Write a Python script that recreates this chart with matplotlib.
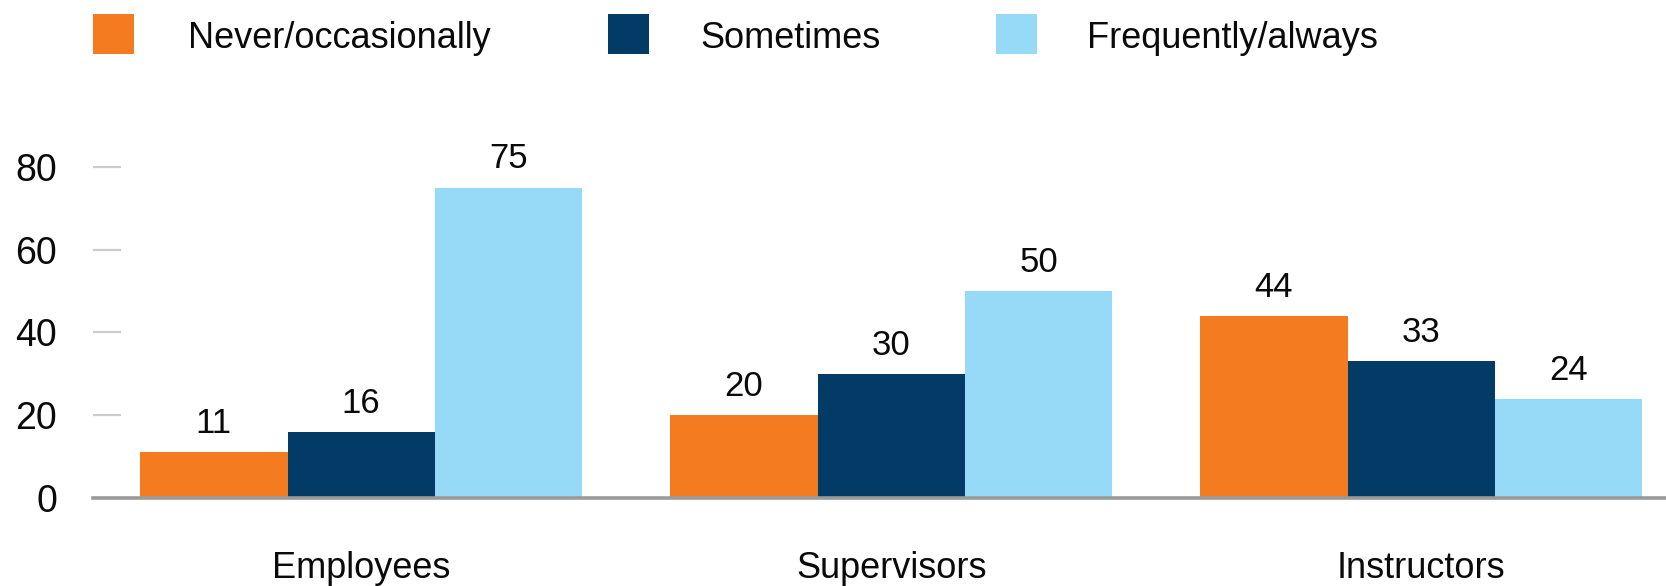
import matplotlib
matplotlib.use("Agg")
import matplotlib.pyplot as plt
import numpy as np
from matplotlib.patches import Rectangle

categories = ["Employees", "Supervisors", "Instructors"]
series_names = ["Never/occasionally", "Sometimes", "Frequently/always"]
never_occasionally = [11, 20, 44]
sometimes = [16, 30, 33]
frequently_always = [75, 50, 24]
yticks = [0, 20, 40, 60, 80]
colors = ["#F47B20", "#013B66", "#97DAF8"]

plt.rcParams['font.family'] = ['Liberation Sans', 'DejaVu Sans']

W, H = 1666, 586
fig = plt.figure(figsize=(W / 100, H / 100), dpi=100)

ax_left = 93 / W
ax_bottom = (H - 498) / H
ax_height = (90 * 4.14) / H
ax = fig.add_axes([ax_left, ax_bottom, 1 - ax_left + 0.001, ax_height])

x = np.arange(len(categories))
w = 0.278
series = [never_occasionally, sometimes, frequently_always]
for i, (vals, col) in enumerate(zip(series, colors)):
    bars = ax.bar(x + (i - 1) * w, vals, w, color=col, linewidth=0, zorder=2)
    for b, v in zip(bars, vals):
        ax.annotate(str(v), (b.get_x() + b.get_width() / 2, v),
                    xytext=(0, 13.7), textcoords="offset points",
                    ha="center", va="baseline", fontsize=25, color="#0a0a0a")

ax.set_xlim(-0.506, 2.465)
ax.set_ylim(0, 90)

for s in ["top", "right", "left"]:
    ax.spines[s].set_visible(False)
ax.spines["bottom"].set_color("#9a9a9a")
ax.spines["bottom"].set_linewidth(2.6)
ax.spines["bottom"].set_zorder(3)

ax.set_yticks(yticks)
ax.set_yticklabels([str(t) for t in yticks])
ax.tick_params(axis="y", direction="in", length=20, width=1.6, color="#cccccc",
               pad=26, labelsize=27, labelcolor="#0a0a0a")
ax.yaxis.get_major_ticks()[0].tick1line.set_visible(False)

ax.set_xticks(x)
ax.set_xticklabels(categories)
ax.tick_params(axis="x", length=0, pad=38, labelsize=26, labelcolor="#0a0a0a")

# legend
sq_x = [93, 608, 996]
txt_x = [188, 700, 1087]
for name, col, sx, tx in zip(series_names, colors, sq_x, txt_x):
    fig.patches.append(Rectangle((sx / W, 1 - 54 / H), 41 / W, 40 / H,
                                 transform=fig.transFigure, color=col, linewidth=0))
    fig.text(tx / W, 1 - 39 / H, name, ha="left", va="center", fontsize=26,
             color="#0a0a0a")

fig.savefig("out.png", dpi=100)
